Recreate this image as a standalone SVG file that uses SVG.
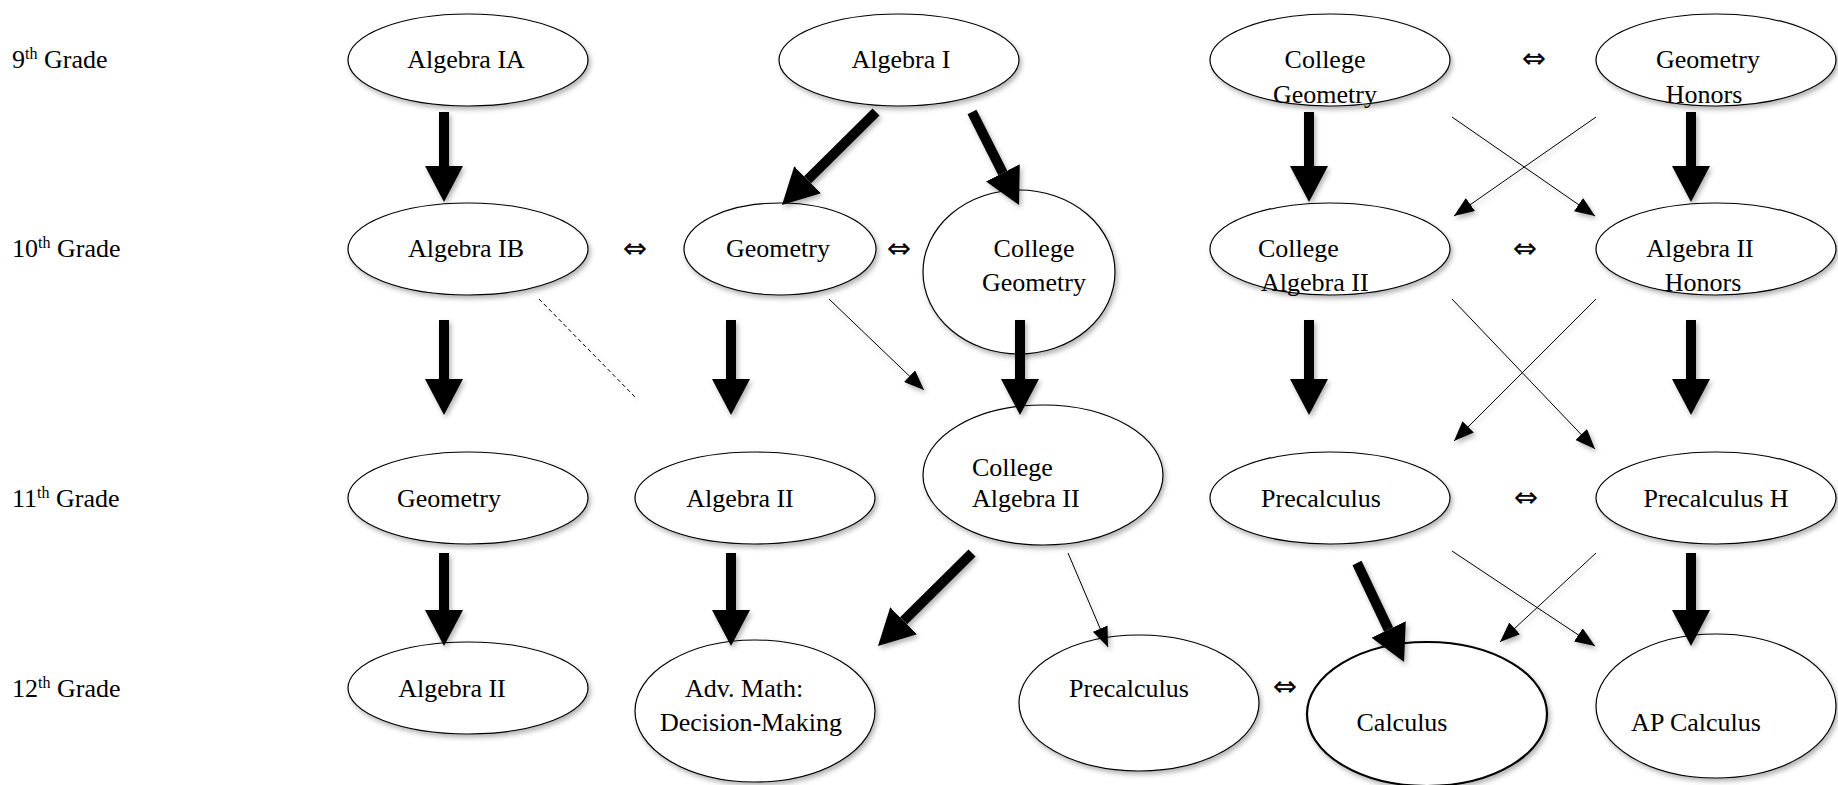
<svg xmlns="http://www.w3.org/2000/svg" width="1838" height="785" viewBox="0 0 1838 785">
<style>
  .bg { fill: #ffffff; }
  .node ellipse { fill: #ffffff; stroke: #000000; stroke-width: 1.2; filter: url(#sh); }
  .node.bold ellipse { stroke-width: 2.2; }
  text { font-family: "Liberation Serif", "Times New Roman", serif; font-size: 26px; fill: #000000; }
  .c { text-anchor: middle; }
  .sup { font-size: 16px; }
  .dbl { font-family: "DejaVu Sans", sans-serif; font-size: 29px; text-anchor: middle; }
  .thick { stroke: #000000; stroke-width: 10; fill: none; marker-end: url(#big); }
  .thin { stroke: #000000; stroke-width: 1; fill: none; marker-end: url(#small); }
  .dash { stroke: #000000; stroke-width: 1; stroke-dasharray: 4 3; fill: none; }
</style>
<defs>
  <filter id="sh" x="-20%" y="-20%" width="140%" height="150%">
    <feDropShadow dx="2" dy="3" stdDeviation="2.5" flood-color="#000000" flood-opacity="0.3"/>
  </filter>
  <marker id="big" viewBox="0 0 36 38" refX="0" refY="19" markerWidth="36" markerHeight="38" orient="auto" markerUnits="userSpaceOnUse">
    <path d="M0,0 L36,19 L0,38 z" fill="#000000"/>
  </marker>
  <marker id="small" viewBox="0 0 20 16" refX="20" refY="8" markerWidth="20" markerHeight="16" orient="auto" markerUnits="userSpaceOnUse">
    <path d="M0,0 L20,8 L0,16 z" fill="#000000"/>
  </marker>
</defs>
<rect class="bg" x="0" y="0" width="1838" height="785"/>

<g id="grades">
  <text x="12" y="68">9<tspan class="sup" dy="-9">th</tspan><tspan dy="9"> Grade</tspan></text>
  <text x="12" y="257">10<tspan class="sup" dy="-9">th</tspan><tspan dy="9"> Grade</tspan></text>
  <text x="12" y="507">11<tspan class="sup" dy="-9">th</tspan><tspan dy="9"> Grade</tspan></text>
  <text x="12" y="697">12<tspan class="sup" dy="-9">th</tspan><tspan dy="9"> Grade</tspan></text>
</g>

<g id="n-algebra-ia" class="node"><ellipse cx="468" cy="60" rx="120" ry="46"/><text class="c" x="466" y="68">Algebra IA</text></g>
<g id="n-algebra-i" class="node"><ellipse cx="899" cy="60" rx="120" ry="46"/><text class="c" x="901" y="68">Algebra I</text></g>
<g id="n-college-geometry-9" class="node"><ellipse cx="1330" cy="60" rx="120" ry="46"/><text class="c" x="1325" y="68">College</text><text class="c" x="1325" y="103">Geometry</text></g>
<g id="n-geometry-honors" class="node"><ellipse cx="1716" cy="60" rx="120" ry="46"/><text class="c" x="1708" y="68">Geometry</text><text class="c" x="1704" y="103">Honors</text></g>

<g id="n-algebra-ib" class="node"><ellipse cx="468" cy="249" rx="120" ry="46"/><text class="c" x="466" y="257">Algebra IB</text></g>
<g id="n-geometry-10" class="node"><ellipse cx="780" cy="249" rx="96" ry="46"/><text class="c" x="778" y="257">Geometry</text></g>
<g id="n-college-geometry-10" class="node"><ellipse cx="1019" cy="272" rx="96" ry="82"/><text class="c" x="1034" y="257">College</text><text class="c" x="1034" y="291">Geometry</text></g>
<g id="n-college-algebra-ii-10" class="node"><ellipse cx="1330" cy="249" rx="120" ry="46"/><text x="1258" y="257">College</text><text x="1261" y="291">Algebra II</text></g>
<g id="n-algebra-ii-honors" class="node"><ellipse cx="1716" cy="249" rx="120" ry="46"/><text class="c" x="1700" y="257">Algebra II</text><text class="c" x="1703" y="291">Honors</text></g>

<g id="n-geometry-11" class="node"><ellipse cx="468" cy="498" rx="120" ry="46"/><text class="c" x="449" y="507">Geometry</text></g>
<g id="n-algebra-ii-11" class="node"><ellipse cx="755" cy="498" rx="120" ry="46"/><text class="c" x="740" y="507">Algebra II</text></g>
<g id="n-college-algebra-ii-11" class="node"><ellipse cx="1043" cy="475" rx="120" ry="70"/><text x="972" y="476">College</text><text x="972" y="507">Algebra II</text></g>
<g id="n-precalculus-11" class="node"><ellipse cx="1330" cy="498" rx="120" ry="46"/><text class="c" x="1321" y="507">Precalculus</text></g>
<g id="n-precalculus-h" class="node"><ellipse cx="1716" cy="498" rx="120" ry="46"/><text class="c" x="1716" y="507">Precalculus H</text></g>

<g id="n-algebra-ii-12" class="node"><ellipse cx="468" cy="688" rx="120" ry="46"/><text class="c" x="452" y="697">Algebra II</text></g>
<g id="n-adv-math" class="node"><ellipse cx="755" cy="711" rx="120" ry="71"/><text x="685" y="697">Adv. Math:</text><text x="660" y="731">Decision-Making</text></g>
<g id="n-precalculus-12" class="node"><ellipse cx="1139" cy="703" rx="120" ry="68"/><text class="c" x="1129" y="697">Precalculus</text></g>
<g id="n-calculus" class="node bold"><ellipse cx="1427" cy="714" rx="120" ry="72"/><text class="c" x="1402" y="731">Calculus</text></g>
<g id="n-ap-calculus" class="node"><ellipse cx="1716" cy="706" rx="120" ry="72"/><text class="c" x="1696" y="731">AP Calculus</text></g>

<g id="connectors" filter="url(#sh)">
  <line class="thick" x1="444" y1="112" x2="444" y2="166"/>
  <line class="thick" x1="876" y1="112" x2="807.6" y2="179.7"/>
  <line class="thick" x1="972" y1="112" x2="1002.8" y2="172.9"/>
  <line class="thick" x1="1309" y1="112" x2="1309" y2="166"/>
  <line class="thick" x1="1691" y1="112" x2="1691" y2="166"/>

  <line class="thick" x1="444" y1="320" x2="444" y2="379"/>
  <line class="thick" x1="731" y1="320" x2="731" y2="379"/>
  <line class="thick" x1="1020" y1="320" x2="1020" y2="379"/>
  <line class="thick" x1="1309" y1="320" x2="1309" y2="379"/>
  <line class="thick" x1="1691" y1="320" x2="1691" y2="379"/>

  <line class="thick" x1="444" y1="553" x2="444" y2="610"/>
  <line class="thick" x1="731" y1="553" x2="731" y2="610"/>
  <line class="thick" x1="972" y1="553" x2="903.6" y2="620.7"/>
  <line class="thick" x1="1357" y1="563" x2="1388.6" y2="629.5"/>
  <line class="thick" x1="1691" y1="553" x2="1691" y2="610"/>

  <line class="thin" x1="829" y1="299" x2="924" y2="390"/>
  <line class="thin" x1="1068" y1="553" x2="1108" y2="647"/>
  <line class="thin" x1="1452" y1="117" x2="1595" y2="216"/>
  <line class="thin" x1="1596" y1="117" x2="1454" y2="216"/>
  <line class="thin" x1="1452" y1="299" x2="1595" y2="449"/>
  <line class="thin" x1="1596" y1="299" x2="1454" y2="441"/>
  <line class="thin" x1="1452" y1="551" x2="1595" y2="646"/>
  <line class="thin" x1="1596" y1="553" x2="1500" y2="642"/>

  <line class="dash" x1="539" y1="299" x2="637" y2="399"/>
</g>

<g id="equivalences">
  <text class="dbl" x="635" y="258">⇔</text>
  <text class="dbl" x="899" y="258">⇔</text>
  <text class="dbl" x="1534" y="68">⇔</text>
  <text class="dbl" x="1525" y="258">⇔</text>
  <text class="dbl" x="1526" y="507">⇔</text>
  <text class="dbl" x="1285" y="696">⇔</text>
</g>
</svg>
